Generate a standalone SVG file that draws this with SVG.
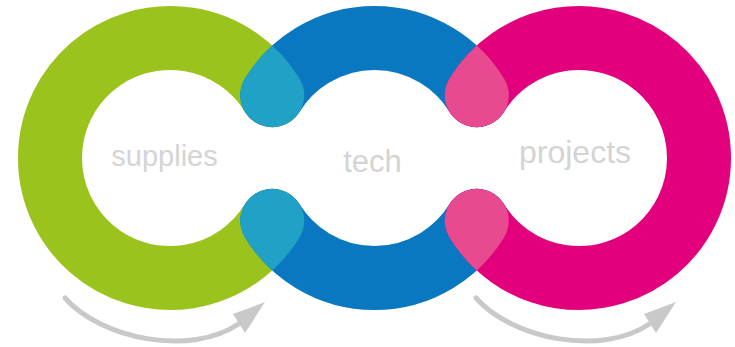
<svg xmlns="http://www.w3.org/2000/svg" xmlns:xlink="http://www.w3.org/1999/xlink" width="735" height="347" viewBox="0 0 735 347">
  <style>
    .ring { fill: none; stroke-width: 64; stroke-linecap: round; }
    .label { font-family: "Liberation Sans", Arial, sans-serif; fill: #d4d4d4; text-anchor: middle; }
    .arrow { fill: none; stroke: #c9c9c9; stroke-width: 5; stroke-linecap: round; }
    .head { fill: #c9c9c9; }
  </style>
  <defs>
    <path id="greenArc" class="ring" d="M272.25,95.2 A120,120 0 1 0 272.25,220.8"/>
    <path id="blueTop" class="ring" d="M272.25,95.2 A120,120 0 0 1 476.75,95.2"/>
    <path id="blueBottom" class="ring" d="M272.25,220.8 A120,120 0 0 0 476.75,220.8"/>
    <path id="pinkArc" class="ring" d="M476.75,95.2 A120,120 0 1 1 476.75,220.8"/>
    <mask id="greenMask" maskUnits="userSpaceOnUse" x="0" y="0" width="735" height="347">
      <use xlink:href="#greenArc" stroke="#fff"/>
    </mask>
    <mask id="pinkMask" maskUnits="userSpaceOnUse" x="0" y="0" width="735" height="347">
      <use xlink:href="#pinkArc" stroke="#fff"/>
    </mask>
  </defs>
  <rect width="735" height="347" fill="#fff"/>

  <g id="node-supplies">
    <use xlink:href="#greenArc" stroke="#9bc31e"/>
    <text class="label" x="164.5" y="166" font-size="29">supplies</text>
  </g>

  <g id="node-tech">
    <use xlink:href="#blueTop" stroke="#0a78c1"/>
    <use xlink:href="#blueBottom" stroke="#0a78c1"/>
    <text class="label" x="372.5" y="172" font-size="31">tech</text>
  </g>

  <g id="node-projects">
    <use xlink:href="#pinkArc" stroke="#e3007d"/>
    <text class="label" x="575" y="163" font-size="32">projects</text>
  </g>

  <g id="overlaps">
    <g mask="url(#greenMask)">
      <use xlink:href="#blueTop" stroke="#20a1c5"/>
      <use xlink:href="#blueBottom" stroke="#20a1c5"/>
    </g>
    <g mask="url(#pinkMask)">
      <use xlink:href="#blueTop" stroke="#e84a90"/>
      <use xlink:href="#blueBottom" stroke="#e84a90"/>
    </g>
  </g>

  <g id="connectors">
    <g id="arrow-left">
      <path class="arrow" d="M65,298 C100,338 190,358 240,323"/>
      <polygon class="head" points="265,302 233,314 245,333"/>
    </g>
    <g id="arrow-right" transform="translate(411,0)">
      <path class="arrow" d="M65,298 C100,338 190,358 240,323"/>
      <polygon class="head" points="265,302 233,314 245,333"/>
    </g>
  </g>
</svg>
